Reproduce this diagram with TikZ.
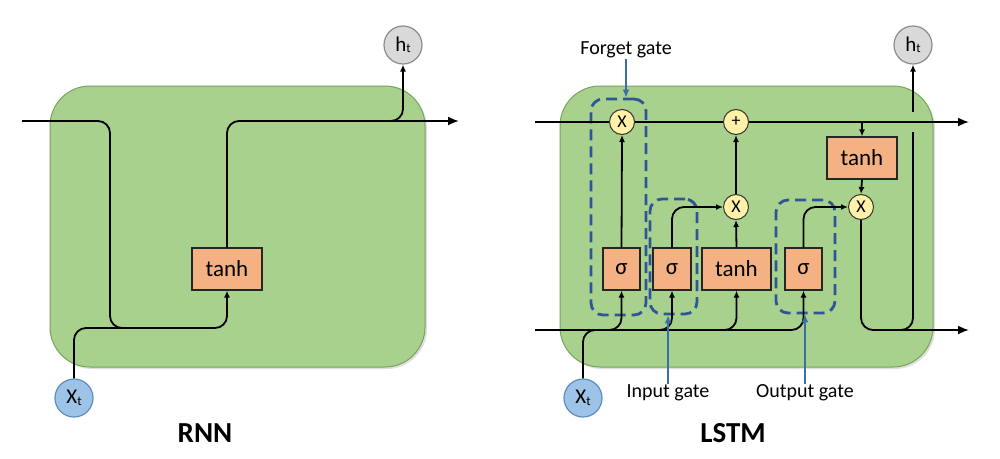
\documentclass[tikz,border=0pt]{standalone}
\usepackage{fontspec}
\setmainfont{Carlito}
\usetikzlibrary{arrows.meta,shadows}
\definecolor{cellgreen}{HTML}{A9D18E}
\definecolor{cellborder}{HTML}{78A45A}
\definecolor{boxorange}{HTML}{F4B183}
\definecolor{opyellow}{HTML}{FFF2A8}
\definecolor{xblue}{HTML}{9DC3E6}
\definecolor{xborder}{HTML}{5B8DC4}
\definecolor{hgray}{HTML}{D9D9D9}
\definecolor{hborder}{HTML}{8C8C8C}
\definecolor{gateblue}{HTML}{2F5597}
\definecolor{labelblue}{HTML}{3A6EA5}
\begin{document}
\begin{tikzpicture}[x=1pt,y=-1pt,
  cell/.style={fill=cellgreen, draw=cellborder, line width=1pt, rounded corners=40pt,
    drop shadow={opacity=0.25, shadow xshift=2pt, shadow yshift=-2pt}},
  layer/.style={draw=black!85, fill=boxorange, line width=1.2pt, minimum height=42pt, inner sep=0pt,
    font=\fontsize{23}{24}\selectfont},
  op/.style={circle, draw=black!80, fill=opyellow, minimum size=25pt, inner sep=0pt, line width=1pt,
    font=\fontsize{18}{18}\selectfont},
  xin/.style={circle, draw=xborder, fill=xblue, minimum size=38pt, inner sep=0pt, line width=1.2pt,
    font=\fontsize{21}{21}\selectfont},
  hout/.style={circle, draw=hborder, fill=hgray, minimum size=38pt, inner sep=0pt, line width=1.2pt,
    font=\fontsize{21}{21}\selectfont},
  flow/.style={line width=1.8pt, rounded corners=12pt},
  tip/.style={-{Latex[length=7pt,width=6pt]}},
  bigtip/.style={-{Latex[length=11pt,width=9pt]}},
  gatebox/.style={draw=gateblue, dash pattern=on 11pt off 6pt, line width=2.8pt, rounded corners=12pt,
    inner sep=0pt},
  gatearrow/.style={draw=labelblue, line width=1.4pt, -{Latex[length=8pt,width=7pt]}},
  gatelabel/.style={font=\fontsize{20}{21}\selectfont, inner sep=1pt},
  title/.style={font=\bfseries\fontsize{29}{30}\selectfont}
]
\useasboundingbox (0,0) rectangle (1000,458);

% ================= RNN =================
\draw[cell] (50,86) rectangle (425,367);

\coordinate (rin) at (22,121);
\coordinate (rout) at (459,121);
\node[layer, minimum width=70pt] (rtanh) at (227,269) {tanh};
\node[xin] (rx) at (74,398) {X\raisebox{-2pt}{\fontsize{13}{13}\selectfont t}};
\node[hout] (rh) at (403,45) {h\raisebox{-1pt}{\fontsize{13}{13}\selectfont t}};

\draw[flow,tip] (rin) -| (110,328) -| (rtanh.south);
\draw[flow] (rx.north) |- (130,328);
\draw[flow,bigtip] (rtanh.north) |- (rout);
\draw[flow,tip] (385,121) -| (rh.south);

\node[title] (rnnlabel) at (205,433) {RNN};

% ================= LSTM =================
\draw[cell] (560,86) rectangle (933,367);

\coordinate (cin) at (535,122);
\coordinate (cout) at (969,122);
\coordinate (hin) at (535,330);
\coordinate (hout2) at (969,330);

% gate regions
\node[gatebox, minimum width=55pt, minimum height=216pt] (fg) at (618.5,207) {};
\node[gatebox, minimum width=47pt, minimum height=115pt] (ig) at (673.5,256.5) {};
\node[gatebox, minimum width=59pt, minimum height=113pt] (og) at (805.5,256.5) {};

% layers and operations
\node[layer, minimum width=37pt] (fs) at (621.5,269) {σ};
\node[layer, minimum width=38pt] (is) at (672,269) {σ};
\node[layer, minimum width=69pt] (ct) at (736.5,269) {tanh};
\node[layer, minimum width=37pt] (os) at (803.5,269) {σ};
\node[layer, minimum width=70pt] (ht) at (862,158) {tanh};

% main lines
\draw[flow,bigtip] (cin) -- (cout);
\draw[flow,tip] (hin) -| (os.south);
\draw[flow,tip] (606,330) -| (fs.south);
\draw[flow,tip] (656,330) -| (is.south);
\draw[flow,tip] (720,330) -| (ct.south);

\node[op] (fx) at (622,122) {X};
\node[op] (pl) at (736,122) {+};
\node[op] (ix) at (736,207) {X};
\node[op] (ox) at (861,207) {X};
\node[xin] (lx) at (583,398) {X\raisebox{-2pt}{\fontsize{13}{13}\selectfont t}};
\node[hout] (lh) at (913,45) {h\raisebox{-1pt}{\fontsize{13}{13}\selectfont t}};

\draw[flow] (lx.north) |- (605,330);
\draw[flow,tip] (fs.north) -- (fx.south);
\draw[flow,tip] (is.north) |- (ix.west);
\draw[flow,tip] (ct.north) -- (ix.south);
\draw[flow,tip] (ix.north) -- (pl.south);
\draw[flow,tip] (ht.north |- fx) -- (ht.north);
\draw[flow,tip] (ht.south) -- (ox.north);
\draw[flow,tip] (os.north) |- (ox.west);
\draw[flow,bigtip] (ox.south) |- (hout2);
\draw[flow] (898,330) -| (913,132);
\draw[flow,tip] (913,112) -- (lh.south);

% gate labels
\node[gatelabel] (fl) at (626,50) {Forget gate};
\node[gatelabel] (il) at (668,393) {Input gate};
\node[gatelabel] (ol) at (805,393) {Output gate};
\draw[gatearrow] (fl.south) -- (fl.south |- fg.north);
\draw[gatearrow] (il.north) -- (il.north |- ig.south);
\draw[gatearrow] (ol.north) -- (ol.north |- og.south);

\node[title] (lstmlabel) at (733,433) {LSTM};
\end{tikzpicture}
\end{document}
